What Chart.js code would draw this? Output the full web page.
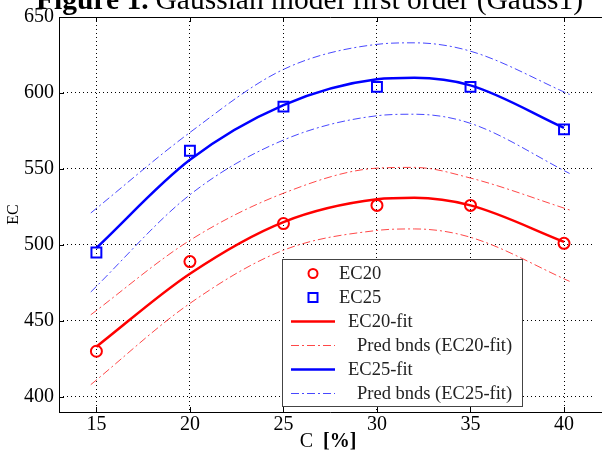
<!DOCTYPE html>
<html>
<head>
<meta charset="utf-8">
<script src="https://cdn.jsdelivr.net/npm/chart.js@4/dist/chart.umd.min.js"></script>
<style>
  html, body { margin: 0; padding: 0; background: #fff; overflow: hidden; }
  #wrap { width: 602px; height: 451px; position: relative; }
</style>
</head>
<body>
<div id="wrap"><canvas id="gaussChart" width="602" height="451"></canvas></div>
<script>
// measured points
const cValues = [15, 20, 25, 30, 35, 40];
const ec20 = [430, 489, 514, 526, 526, 501];
const ec25 = [495, 562, 591, 604, 604, 576];

// Gauss1 fitted curves
const fitC = [15, 20, 25, 30, 32, 35, 40];
const ec20Fit = [433, 481, 515, 530, 531, 526, 502];
const ec25Fit = [498, 556, 592, 609, 610, 605, 577];

// prediction bounds
const bndC = [14.7, 20, 25, 30, 32, 35, 40.3];
const ec20Upper = [454, 503, 534, 550.5, 551, 544, 523];
const ec20Lower = [408, 461.5, 496.5, 509.5, 510.5, 505, 476];
const ec25Upper = [521, 574, 615.5, 632, 633, 627.5, 599];
const ec25Lower = [469, 533, 569, 585, 586, 580, 547];

const xTicks = [15, 20, 25, 30, 35, 40];
const yTicks = [400, 450, 500, 550, 600, 650];

const SERIF = '"Liberation Serif", "Times New Roman", serif';
const RED = '#ff0000';
const BLUE = '#0000ff';
const DASHDOT = [8, 3, 2, 3];

const pts = (xs, ys) => xs.map((x, i) => ({ x: x, y: ys[i] }));

// title, axis label, inward tick marks, box lines and the legend
const matlabFrame = {
  id: 'matlabFrame',
  afterDraw(chart) {
    const { ctx, chartArea: a, scales } = chart;
    const right = chart.width;
    ctx.save();
    ctx.strokeStyle = '#000';
    ctx.lineWidth = 1;
    ctx.setLineDash([]);
    ctx.beginPath();
    ctx.moveTo(a.left + 0.5, a.top + 0.5);
    ctx.lineTo(a.left + 0.5, a.bottom + 0.5);
    ctx.moveTo(a.left, a.bottom + 0.5);
    ctx.lineTo(right, a.bottom + 0.5);
    ctx.moveTo(a.left, a.top + 0.5);
    ctx.lineTo(right, a.top + 0.5);
    xTicks.forEach(v => {
      const px = Math.round(scales.x.getPixelForValue(v)) + 0.5;
      ctx.moveTo(px, a.bottom); ctx.lineTo(px, a.bottom - 5);
      ctx.moveTo(px, a.top); ctx.lineTo(px, a.top + 5);
    });
    yTicks.forEach(v => {
      const py = Math.round(scales.y.getPixelForValue(v)) + 0.5;
      ctx.moveTo(a.left, py); ctx.lineTo(a.left + 5, py);
    });
    ctx.stroke();

    // title (runs off the top edge)
    ctx.fillStyle = '#000';
    ctx.textBaseline = 'alphabetic';
    ctx.textAlign = 'left';
    ctx.font = 'bold 29.5px ' + SERIF;
    const head = 'Figure 1.';
    ctx.fillText(head, 36, 9);
    const hw = ctx.measureText(head).width;
    ctx.font = '29.5px ' + SERIF;
    ctx.fillText('Gaussian model first order (Gauss1)', 36 + hw + 7, 9);

    // x axis label: "C" plain, "[%]" bold
    ctx.font = '20px ' + SERIF;
    const c = 'C  ';
    const cw = ctx.measureText(c).width;
    ctx.font = 'bold 20px ' + SERIF;
    const pct = '[%]';
    const pw = ctx.measureText(pct).width;
    const x0 = 328 - (cw + pw) / 2;
    ctx.font = '20px ' + SERIF;
    ctx.fillText(c, x0, 447);
    ctx.font = 'bold 20px ' + SERIF;
    ctx.fillText(pct, x0 + cw, 447);

    // legend box
    const box = { l: 282.5, t: 259.5, r: 522.5, b: 406.5 };
    ctx.fillStyle = '#fff';
    ctx.fillRect(box.l, box.t, box.r - box.l, box.b - box.t);
    ctx.strokeStyle = '#444';
    ctx.lineWidth = 1;
    ctx.strokeRect(box.l, box.t, box.r - box.l, box.b - box.t);

    const textX = [339, 339, 348, 357, 348, 357];
    ctx.font = '18.5px ' + SERIF;
    ctx.textBaseline = 'middle';
    chart.data.datasets.forEach((ds, i) => {
      if (!ds.label) return;
      const y = 273.5 + i * 24;
      ctx.save();
      if (ds.showLine === false) {
        ctx.strokeStyle = ds.pointBorderColor;
        ctx.lineWidth = ds.pointBorderWidth;
        ctx.beginPath();
        if (ds.pointStyle === 'rect') {
          ctx.rect(313 - 4.5, y - 4.5, 9, 9);
        } else {
          ctx.arc(313, y, 4.5, 0, Math.PI * 2);
        }
        ctx.stroke();
      } else {
        ctx.strokeStyle = ds.borderColor;
        ctx.lineWidth = ds.borderWidth;
        ctx.setLineDash(ds.borderDash || []);
        ctx.beginPath();
        ctx.moveTo(291, y);
        ctx.lineTo(335, y);
        ctx.stroke();
      }
      ctx.restore();
      ctx.fillStyle = '#222';
      ctx.fillText(ds.label, textX[i], y + 1);
    });
    ctx.restore();
  }
};

new Chart(document.getElementById('gaussChart'), {
  type: 'scatter',
  data: {
    datasets: [
      {
        label: 'EC20',
        data: pts(cValues, ec20),
        showLine: false,
        pointStyle: 'circle',
        pointRadius: 5.5,
        pointBorderWidth: 2,
        pointBorderColor: RED,
        pointBackgroundColor: 'rgba(0,0,0,0)',
        order: 0
      },
      {
        label: 'EC25',
        data: pts(cValues, ec25),
        showLine: false,
        pointStyle: 'rect',
        pointRadius: 7,
        pointBorderWidth: 2,
        pointBorderColor: BLUE,
        pointBackgroundColor: 'rgba(0,0,0,0)',
        order: 0
      },
      {
        label: 'EC20-fit',
        data: pts(fitC, ec20Fit),
        showLine: true,
        borderColor: RED,
        borderWidth: 2.5,
        pointRadius: 0,
        cubicInterpolationMode: 'monotone',
        order: 1
      },
      {
        label: 'Pred bnds (EC20-fit)',
        data: pts(bndC, ec20Upper),
        showLine: true,
        borderColor: 'rgba(255,40,40,0.85)',
        borderWidth: 1,
        borderDash: DASHDOT,
        pointRadius: 0,
        cubicInterpolationMode: 'monotone',
        order: 2
      },
      {
        label: 'EC25-fit',
        data: pts(fitC, ec25Fit),
        showLine: true,
        borderColor: BLUE,
        borderWidth: 2.5,
        pointRadius: 0,
        cubicInterpolationMode: 'monotone',
        order: 1
      },
      {
        label: 'Pred bnds (EC25-fit)',
        data: pts(bndC, ec25Upper),
        showLine: true,
        borderColor: 'rgba(40,40,255,0.85)',
        borderWidth: 1,
        borderDash: DASHDOT,
        pointRadius: 0,
        cubicInterpolationMode: 'monotone',
        order: 2
      },
      {
        label: '',
        data: pts(bndC, ec20Lower),
        showLine: true,
        borderColor: 'rgba(255,40,40,0.85)',
        borderWidth: 1,
        borderDash: DASHDOT,
        pointRadius: 0,
        cubicInterpolationMode: 'monotone',
        order: 2
      },
      {
        label: '',
        data: pts(bndC, ec25Lower),
        showLine: true,
        borderColor: 'rgba(40,40,255,0.85)',
        borderWidth: 1,
        borderDash: DASHDOT,
        pointRadius: 0,
        cubicInterpolationMode: 'monotone',
        order: 2
      }
    ]
  },
  options: {
    responsive: false,
    animation: false,
    devicePixelRatio: 1,
    layout: { padding: { top: 15, right: 0, left: 0, bottom: 0 } },
    scales: {
      x: {
        type: 'linear',
        min: 13,
        max: 41.55,
        afterFit: s => { s.height = 39; },
        ticks: {
          stepSize: 5,
          includeBounds: false,
          color: '#000',
          font: { family: SERIF, size: 20 },
          padding: 1
        },
        grid: { color: '#000', lineWidth: 1, drawTicks: false },
        border: { display: false, dash: [1, 3] }
      },
      y: {
        min: 390,
        max: 650,
        afterFit: s => { s.width = 59; },
        ticks: {
          stepSize: 50,
          includeBounds: false,
          color: '#000',
          font: { family: SERIF, size: 20 },
          padding: 5
        },
        grid: { color: '#000', lineWidth: 1, drawTicks: false },
        border: { display: false, dash: [1, 3] },
        title: {
          display: true,
          text: 'EC',
          color: '#000',
          font: { family: SERIF, size: 16 },
          padding: { top: 4, bottom: 0 }
        }
      }
    },
    plugins: {
      legend: { display: false },
      tooltip: { enabled: false }
    }
  },
  plugins: [matlabFrame]
});
</script>
</body>
</html>
